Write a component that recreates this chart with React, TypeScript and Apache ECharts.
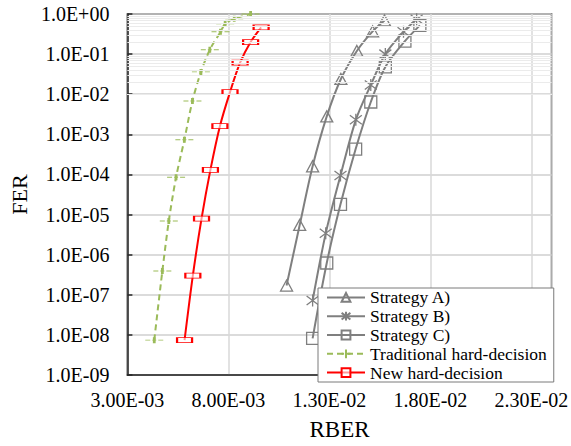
import React, { useEffect, useRef } from "react";
import * as echarts from "echarts";

// Strategy A) (triangles)
const rberA = [0.01088, 0.01153, 0.01217, 0.01287, 0.01357, 0.01436, 0.01514, 0.01573];
const ferA = [1.7e-7, 5.5e-6, 1.6e-4, 2.8e-3, 2.4e-2, 1.2e-1, 3.7e-1, 6.9e-1];
// Strategy B) (stars)
const rberB = [0.01217, 0.01282, 0.01355, 0.01431, 0.01505, 0.01577, 0.01667, 0.01732];
const ferB = [7.2e-8, 3.4e-6, 9.4e-5, 2.3e-3, 1.7e-2, 1.0e-1, 3.6e-1, 7.4e-1];
// Strategy C) (squares)
const rberC = [0.01217, 0.01287, 0.01355, 0.0143, 0.01505, 0.01577, 0.01674, 0.01748];
const ferC = [8.2e-9, 6.2e-7, 1.8e-5, 4.3e-4, 6.4e-3, 4.8e-2, 2.1e-1, 5.2e-1];
// Traditional hard-decision
const rberTrad = [0.00433, 0.00473, 0.00505, 0.00541, 0.00582, 0.00622, 0.00664, 0.00708, 0.00761, 0.00784, 0.00829, 0.0091];
const ferTrad = [7.4e-9, 3.9e-7, 6.9e-6, 8.5e-5, 7.3e-4, 6.8e-3, 3.6e-2, 1.28e-1, 3.6e-1, 5.7e-1, 7.6e-1, 1.0];
// New hard-decision
const rberNew = [0.00583, 0.00624, 0.00667, 0.00711, 0.00758, 0.00808, 0.00858, 0.0091, 0.00962];
const ferNew = [7.4e-9, 3.0e-7, 7.9e-6, 1.3e-4, 1.6e-3, 1.13e-2, 6.1e-2, 2.0e-1, 4.65e-1];

const seriesNames = ["Strategy A)", "Strategy B)", "Strategy C)", "Traditional hard-decision", "New hard-decision"];

// minor (log) gridline positions
const minorMantissas = [2, 3, 4, 5, 6, 7, 8, 9];
const decadeExponents = [-9, -8, -7, -6, -5, -4, -3, -2, -1];

const FONT = "Liberation Serif";
const GRAY = "#7f7f7f";
const GREEN = "#9bbb59";
const RED = "#ff0000";
const DARK = "#262626";

const pairs = (xs: number[], ys: number[]) => xs.map((x, i) => [x, ys[i]]);

function fmtX(v: number) {
  const s = v.toExponential(2);
  const [m, e] = s.split("e");
  const n = parseInt(e, 10);
  return m + "E" + (n < 0 ? "-" : "+") + String(Math.abs(n)).padStart(2, "0");
}
function fmtY(v: number) {
  const e = Math.round(Math.log10(v));
  return "1.0E" + (e < 0 ? "-" : "+") + String(Math.abs(e)).padStart(2, "0");
}

const minorGrid: { yAxis: number }[] = [];
decadeExponents.forEach((k) => minorMantissas.forEach((m) => minorGrid.push({ yAxis: m * Math.pow(10, k) })));

const grayItem = { color: "rgba(0,0,0,0)", borderColor: GRAY, borderWidth: 1.3 };

const option: any = {
  animation: false,
  backgroundColor: "#fff",
  textStyle: { fontFamily: FONT },
  grid: { left: 121, top: 14, width: 433, height: 371, show: true, borderColor: DARK, borderWidth: 1.5, backgroundColor: "transparent" },
  legend: {
    data: seriesNames,
    orient: "vertical",
    left: 318,
    top: 288,
    padding: [0, 7, 0, 8],
    itemWidth: 38,
    itemHeight: 11,
    itemGap: 0,
    backgroundColor: "#fff",
    borderColor: "#7a7a7a",
    borderWidth: 1,
    textStyle: { fontFamily: FONT, fontSize: 17.5, color: "#000", lineHeight: 18.8 },
  },
  xAxis: {
    type: "value",
    min: 0.003,
    max: 0.024,
    interval: 0.005,
    name: "RBER",
    nameLocation: "middle",
    nameGap: 43,
    nameTextStyle: { fontFamily: FONT, fontSize: 23, color: "#000" },
    axisLine: { show: true, lineStyle: { color: DARK, width: 1.5 } },
    axisTick: { show: false },
    axisLabel: { formatter: fmtX, fontFamily: FONT, fontSize: 20, color: "#000", margin: 15, showMaxLabel: false },
    splitLine: { show: true, lineStyle: { color: "#d9d9d9", width: 1.5 } },
  },
  yAxis: {
    type: "log",
    logBase: 10,
    min: 1e-9,
    max: 1,
    splitNumber: 9,
    name: "FER",
    nameLocation: "middle",
    nameGap: 88,
    nameTextStyle: { fontFamily: FONT, fontSize: 22, color: "#000" },
    axisLine: { show: true, lineStyle: { color: DARK, width: 1.5 } },
    axisTick: { show: true, inside: true, length: 5, lineStyle: { color: DARK, width: 1.5 } },
    axisLabel: { formatter: fmtY, fontFamily: FONT, fontSize: 20, color: "#000", margin: 18 },
    splitLine: { show: true, lineStyle: { color: "#cfcfcf", width: 1.5 } },
  },
  series: [
    {
      name: "minor",
      type: "line",
      data: [],
      z: 0,
      silent: true,
      markLine: {
        silent: true,
        symbol: ["none", "none"],
        label: { show: false },
        lineStyle: { color: "#ebebeb", type: "solid", width: 1 },
        emphasis: { disabled: true },
        data: minorGrid,
      },
    },
    {
      name: seriesNames[0],
      type: "line",
      data: pairs(rberA, ferA),
      smooth: 0.3,
      symbol: "triangle",
      symbolSize: [12, 11],
      lineStyle: { color: GRAY, width: 2 },
      itemStyle: grayItem,
    },
    {
      name: seriesNames[1],
      type: "line",
      data: pairs(rberB, ferB),
      smooth: 0.3,
      symbol: "path://M6,0 L6,12 M0.5,1.5 L11.5,10.5 M0.5,10.5 L11.5,1.5",
      symbolSize: 12,
      lineStyle: { color: GRAY, width: 2 },
      itemStyle: grayItem,
    },
    {
      name: seriesNames[2],
      type: "line",
      data: pairs(rberC, ferC),
      smooth: 0.3,
      symbol: "rect",
      symbolSize: 12,
      lineStyle: { color: GRAY, width: 2 },
      itemStyle: grayItem,
    },
    {
      name: seriesNames[3],
      type: "line",
      data: pairs(rberTrad, ferTrad),
      smooth: 0.3,
      symbol: "path://M0,3 L5,3 M7,3 L11,3 M13,3 L18,3 M9,0.5 L9,5.5",
      symbolSize: [18, 6],
      lineStyle: { color: GREEN, width: 2, type: [6, 4] },
      itemStyle: { color: "rgba(0,0,0,0)", borderColor: GREEN, borderWidth: 1.6 },
    },
    {
      name: seriesNames[4],
      type: "line",
      data: pairs(rberNew, ferNew),
      smooth: 0.3,
      symbol: "rect",
      symbolSize: [15, 5],
      lineStyle: { color: RED, width: 2 },
      itemStyle: { color: "rgba(255,255,255,0.6)", borderColor: RED, borderWidth: 1.3 },
    },
  ],
};

export default function App() {
  const ref = useRef<HTMLDivElement>(null);
  useEffect(() => {
    document.body.style.margin = "0";
    const chart = echarts.init(ref.current!, undefined, { renderer: "svg" });
    chart.setOption(option);
    return () => chart.dispose();
  }, []);
  return <div ref={ref} style={{ width: 571, height: 446, position: "absolute", left: 0, top: 0 }} />;
}
